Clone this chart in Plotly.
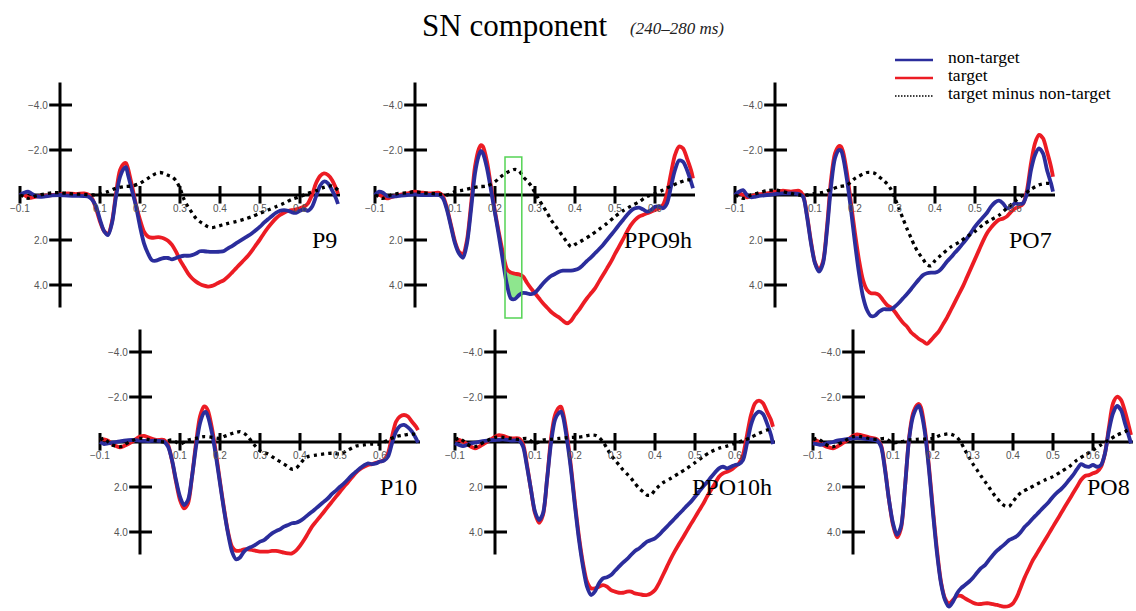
import numpy as np
import plotly.graph_objects as go

# ---------------- data ----------------
PANELS = ["P9", "PPO9h", "PO7", "P10", "PPO10h", "PO8"]

# time grid (s) for the solid waveforms
T = [-0.10, -0.09, -0.08, -0.07, -0.06, -0.05, -0.04, -0.02, 0.00, 0.01, 0.02, 0.04, 0.06, 0.07,
     0.08, 0.09, 0.10, 0.11, 0.12, 0.13, 0.14, 0.15, 0.16, 0.165,
     0.17, 0.18, 0.19, 0.20, 0.21, 0.22, 0.23, 0.24, 0.25, 0.26,
     0.27, 0.28, 0.29, 0.30, 0.31, 0.32, 0.33, 0.34, 0.35, 0.36,
     0.37, 0.38, 0.39, 0.40, 0.41, 0.42, 0.43, 0.44, 0.45, 0.46,
     0.47, 0.48, 0.49, 0.50, 0.51, 0.52, 0.53, 0.54, 0.55, 0.56,
     0.57, 0.58, 0.59, 0.60, 0.61, 0.62, 0.63, 0.64, 0.65, 0.66,
     0.67, 0.68, 0.69, 0.695]

# time grid (s) for the difference waves
TD = [-0.10, -0.09, -0.08, -0.07, -0.06, -0.05, -0.04, -0.02, 0.00, 0.02, 0.04, 0.06, 0.08, 0.10,
      0.12, 0.14, 0.16, 0.18, 0.20,
      0.21, 0.22, 0.23, 0.24, 0.25, 0.26, 0.27, 0.28, 0.29, 0.30,
      0.31, 0.32, 0.33, 0.34, 0.35, 0.36, 0.37, 0.38, 0.39, 0.40, 0.41, 0.42,
      0.44, 0.46, 0.48, 0.50, 0.52, 0.54, 0.56, 0.58, 0.60, 0.62, 0.64, 0.66, 0.68,
      0.695]

# non-target (µV)
NONTARGET_P9 = [0.00, -0.10, -0.15, -0.05, 0.05, 0.08, 0.07, 0.02, 0.00, 0.02, 0.03, 0.04, 0.05, 0.07,
                0.20, 0.50, 1.10, 1.60, 1.78, 1.25, 0.07, -0.80, -1.18, -1.23,
                -0.90, -0.20, 0.50, 1.40, 2.15, 2.60, 2.90, 2.92, 2.85, 2.80,
                2.80, 2.86, 2.80, 2.74, 2.70, 2.70, 2.67, 2.60, 2.50, 2.50,
                2.52, 2.53, 2.53, 2.52, 2.49, 2.37, 2.27, 2.15, 2.04, 1.93,
                1.82, 1.70, 1.56, 1.41, 1.23, 1.08, 0.93, 0.79, 0.70, 0.67,
                0.70, 0.77, 0.79, 0.70, 0.64, 0.70, 0.52, 0.07, -0.40, -0.60,
                -0.52, -0.22, 0.15, 0.40]
NONTARGET_PPO9h = [0.00, -0.15, -0.10, 0.04, 0.07, 0.06, 0.04, 0.00, -0.03, -0.01, 0.00, 0.00, 0.00, 0.15,
                   0.67, 1.41, 2.15, 2.60, 2.79, 2.15, 0.67, -0.96, -1.78, -1.96,
                   -1.85, -1.19, -0.22, 0.81, 1.85, 2.96, 4.00, 4.60, 4.62, 4.45,
                   4.35, 4.37, 4.41, 4.34, 4.15, 3.93, 3.75, 3.60, 3.51, 3.41,
                   3.36, 3.36, 3.36, 3.33, 3.26, 3.11, 2.93, 2.77, 2.59, 2.41,
                   2.22, 2.00, 1.78, 1.56, 1.33, 1.11, 0.89, 0.70, 0.59, 0.56,
                   0.64, 0.74, 0.67, 0.52, 0.52, 0.59, 0.37, -0.37, -1.11, -1.53,
                   -1.48, -1.11, -0.59, -0.30]
NONTARGET_PO7 = [0.00, -0.15, -0.22, 0.00, 0.10, 0.08, 0.04, 0.00, -0.04, -0.06, -0.07, -0.07, -0.04, 0.07,
                 0.96, 2.15, 3.04, 3.41, 3.04, 1.56, -0.37, -1.63, -2.00, -1.98,
                 -1.70, -0.67, 0.67, 2.15, 3.48, 4.52, 5.11, 5.38, 5.36, 5.19,
                 5.08, 5.08, 5.08, 4.96, 4.79, 4.59, 4.40, 4.19, 3.96, 3.75,
                 3.56, 3.48, 3.45, 3.45, 3.38, 3.19, 2.96, 2.77, 2.56, 2.37,
                 2.15, 1.93, 1.67, 1.41, 1.19, 0.99, 0.79, 0.52, 0.33, 0.25,
                 0.37, 0.59, 0.52, 0.37, 0.41, 0.37, -0.07, -1.11, -1.78, -2.07,
                 -1.85, -1.11, -0.52, -0.15]
NONTARGET_P10 = [0.00, 0.09, 0.06, 0.03, 0.00, -0.03, -0.06, -0.09, -0.06, -0.05, -0.04, -0.06, -0.01, 0.20,
                 0.80, 1.69, 2.43, 2.80, 2.58, 1.54, 0.21, -0.83, -1.30, -1.33,
                 -1.13, -0.39, 0.65, 1.84, 3.02, 4.06, 4.87, 5.21, 5.13, 4.87,
                 4.73, 4.65, 4.55, 4.43, 4.36, 4.21, 4.06, 3.96, 3.88, 3.76,
                 3.69, 3.61, 3.59, 3.51, 3.39, 3.24, 3.10, 2.95, 2.80, 2.65,
                 2.50, 2.31, 2.16, 1.99, 1.84, 1.66, 1.47, 1.32, 1.17, 1.04,
                 0.95, 0.98, 0.95, 0.87, 0.83, 0.65, 0.06, -0.46, -0.71, -0.76,
                 -0.65, -0.46, -0.16, 0.03]
NONTARGET_PPO10h = [0.06, 0.13, 0.18, 0.13, 0.06, 0.03, -0.01, -0.06, -0.09, -0.10, -0.12, -0.06, -0.06, 0.20,
                    1.10, 2.13, 3.10, 3.47, 3.17, 1.69, 0.06, -0.98, -1.30, -1.35,
                    -1.13, -0.09, 1.24, 2.87, 4.36, 5.54, 6.43, 6.80, 6.64, 6.28,
                    6.06, 6.01, 5.91, 5.72, 5.54, 5.36, 5.21, 5.02, 4.84, 4.73,
                    4.58, 4.43, 4.36, 4.28, 4.13, 3.94, 3.76, 3.57, 3.39, 3.20,
                    3.02, 2.83, 2.65, 2.43, 2.21, 1.99, 1.79, 1.57, 1.36, 1.17,
                    1.10, 1.17, 1.10, 1.02, 0.98, 0.80, 0.06, -0.76, -1.20, -1.35,
                    -1.24, -0.83, -0.31, 0.09]
NONTARGET_PO8 = [0.06, 0.09, 0.13, 0.09, 0.03, 0.00, -0.06, -0.12, -0.16, -0.17, -0.16, -0.12, -0.06, 0.20,
                 1.24, 2.58, 3.61, 4.13, 3.76, 1.99, -0.09, -1.13, -1.54, -1.60,
                 -1.35, -0.39, 1.24, 3.17, 4.95, 6.28, 7.02, 7.32, 7.10, 6.73,
                 6.50, 6.36, 6.21, 6.03, 5.81, 5.61, 5.47, 5.24, 5.02, 4.83,
                 4.68, 4.53, 4.36, 4.28, 4.18, 3.99, 3.76, 3.59, 3.39, 3.21,
                 3.02, 2.84, 2.65, 2.43, 2.25, 2.10, 1.91, 1.69, 1.47, 1.21,
                 0.98, 1.07, 1.10, 1.02, 1.10, 1.02, 0.50, -0.53, -1.27, -1.60,
                 -1.42, -0.83, -0.24, 0.06]

# target (µV)
TARGET_P9 = [0.00, 0.00, 0.10, 0.12, 0.07, 0.05, 0.04, 0.00, -0.03, -0.05, -0.07, -0.04, -0.07, -0.03,
             0.15, 0.60, 1.18, 1.60, 1.73, 1.18, -0.07, -1.10, -1.40, -1.42,
             -1.18, -0.40, 0.44, 1.10, 1.63, 1.85, 1.90, 1.88, 1.88, 1.93,
             2.03, 2.22, 2.52, 2.89, 3.19, 3.48, 3.70, 3.85, 3.96, 4.03,
             4.07, 4.04, 3.96, 3.87, 3.78, 3.63, 3.45, 3.26, 3.07, 2.89,
             2.70, 2.47, 2.22, 1.97, 1.70, 1.45, 1.23, 1.04, 0.89, 0.79,
             0.71, 0.67, 0.64, 0.59, 0.52, 0.37, 0.00, -0.52, -0.84, -0.96,
             -0.89, -0.67, -0.30, -0.05]
TARGET_PPO9h = [0.00, 0.00, 0.07, 0.15, 0.10, 0.05, 0.00, -0.07, -0.15, -0.12, -0.10, -0.07, -0.10, 0.07,
                0.59, 1.33, 2.07, 2.52, 2.62, 2.00, 0.44, -1.26, -2.07, -2.22,
                -2.15, -1.48, -0.37, 0.74, 1.70, 2.59, 3.30, 3.45, 3.50, 3.53,
                3.62, 3.90, 4.15, 4.37, 4.59, 4.81, 5.00, 5.19, 5.33, 5.44,
                5.59, 5.70, 5.59, 5.33, 5.11, 4.84, 4.59, 4.37, 4.15, 3.85,
                3.56, 3.26, 2.96, 2.62, 2.30, 1.97, 1.63, 1.33, 1.11, 0.96,
                0.89, 0.81, 0.74, 0.67, 0.59, 0.44, -0.07, -0.96, -1.78, -2.15,
                -2.07, -1.63, -1.11, -0.74]
TARGET_PO7 = [0.00, -0.07, 0.00, 0.10, 0.04, 0.00, -0.04, -0.07, -0.15, -0.17, -0.19, -0.15, -0.19, 0.00,
              0.89, 2.07, 3.00, 3.33, 2.96, 1.41, -0.67, -1.85, -2.18, -2.15,
              -1.93, -0.96, 0.37, 1.70, 2.89, 3.78, 4.22, 4.37, 4.37, 4.44,
              4.67, 4.89, 5.00, 5.20, 5.45, 5.68, 5.85, 6.10, 6.25, 6.40,
              6.50, 6.62, 6.45, 6.25, 6.05, 5.75, 5.45, 5.10, 4.75, 4.40,
              4.05, 3.65, 3.25, 2.85, 2.45, 2.05, 1.70, 1.45, 1.25, 1.10,
              1.05, 0.95, 0.75, 0.60, 0.52, 0.40, -0.22, -1.41, -2.30, -2.67,
              -2.52, -1.93, -1.26, -0.81]
TARGET_P10 = [-0.09, -0.12, -0.06, 0.09, 0.18, 0.24, 0.18, -0.01, -0.24, -0.27, -0.21, -0.09, -0.09, 0.13,
              0.83, 1.76, 2.58, 2.95, 2.73, 1.54, 0.06, -1.13, -1.58, -1.55,
              -1.39, -0.61, 0.50, 1.76, 2.95, 3.99, 4.65, 4.83, 4.83, 4.77,
              4.77, 4.80, 4.84, 4.87, 4.87, 4.87, 4.84, 4.84, 4.87, 4.92,
              4.95, 4.95, 4.83, 4.62, 4.36, 4.06, 3.76, 3.54, 3.32, 3.10,
              2.87, 2.65, 2.43, 2.21, 1.99, 1.79, 1.57, 1.36, 1.21, 1.10,
              1.02, 0.98, 0.92, 0.87, 0.80, 0.50, -0.24, -0.90, -1.13, -1.20,
              -1.13, -0.90, -0.68, -0.53]
TARGET_PPO10h = [-0.09, -0.09, -0.01, 0.09, 0.21, 0.28, 0.21, -0.01, -0.24, -0.31, -0.27, -0.16, -0.16, 0.09,
                 1.02, 2.13, 3.17, 3.59, 3.24, 1.69, -0.16, -1.20, -1.54, -1.57,
                 -1.30, -0.31, 1.10, 2.73, 4.21, 5.39, 6.21, 6.50, 6.50, 6.43,
                 6.36, 6.43, 6.58, 6.65, 6.70, 6.70, 6.65, 6.65, 6.73, 6.76,
                 6.80, 6.80, 6.73, 6.58, 6.28, 5.91, 5.54, 5.17, 4.84, 4.53,
                 4.24, 3.94, 3.64, 3.35, 3.05, 2.76, 2.43, 2.13, 1.84, 1.54,
                 1.39, 1.32, 1.24, 1.10, 0.95, 0.58, -0.31, -1.20, -1.72, -1.84,
                 -1.72, -1.35, -0.98, -0.68]
TARGET_PO8 = [-0.09, -0.06, 0.06, 0.18, 0.24, 0.28, 0.21, -0.01, -0.27, -0.34, -0.31, -0.21, -0.12, 0.13,
              1.17, 2.58, 3.69, 4.24, 3.84, 1.99, -0.16, -1.27, -1.64, -1.69,
              -1.54, -0.53, 1.10, 3.02, 4.80, 6.21, 6.95, 7.17, 7.02, 6.84,
              6.84, 6.95, 7.05, 7.14, 7.20, 7.20, 7.17, 7.17, 7.21, 7.24,
              7.29, 7.32, 7.29, 7.17, 6.87, 6.43, 5.99, 5.61, 5.24, 4.95,
              4.65, 4.36, 4.06, 3.76, 3.47, 3.17, 2.87, 2.58, 2.28, 1.99,
              1.69, 1.51, 1.47, 1.39, 1.32, 1.10, 0.50, -0.68, -1.72, -2.01,
              -1.87, -1.35, -0.68, -0.31]

# target minus non-target (µV)
DIFF_P9 = [0.00, 0.07, 0.15, 0.10, 0.04, 0.00, -0.04, -0.10, -0.10, -0.07, -0.04, -0.03, 0.00, -0.04,
           -0.15, -0.30, -0.37, -0.40, -0.52,
           -0.63, -0.74, -0.86, -0.96, -1.00, -0.96, -0.88, -0.81, -0.64, -0.30,
           0.19, 0.52, 0.79, 1.04, 1.19, 1.30, 1.41, 1.45, 1.41, 1.36, 1.31, 1.26,
           1.18, 1.08, 0.96, 0.81, 0.67, 0.52, 0.37, 0.19, 0.07, -0.07, -0.19, -0.34, -0.40,
           -0.22]
DIFF_PPO9h = [0.00, 0.07, 0.15, 0.07, 0.00, -0.04, -0.07, -0.10, -0.15, -0.10, -0.07, -0.04, 0.00, -0.15,
              -0.22, -0.30, -0.37, -0.40, -0.59,
              -0.74, -0.89, -1.00, -1.08, -1.14, -1.08, -0.82, -0.63, -0.42, -0.10,
              0.20, 0.50, 0.78, 1.10, 1.35, 1.60, 1.85, 2.10, 2.30, 2.20, 2.10, 2.00,
              1.78, 1.53, 1.26, 0.96, 0.70, 0.49, 0.30, 0.07, -0.07, -0.22, -0.40, -0.55, -0.67,
              -0.67]
DIFF_PO7 = [0.00, 0.07, 0.15, 0.10, 0.00, -0.05, -0.10, -0.19, -0.22, -0.15, -0.07, 0.00, 0.00, -0.07,
            -0.12, -0.25, -0.37, -0.44, -0.74,
            -0.84, -0.93, -1.00, -1.00, -0.96, -0.81, -0.67, -0.50, -0.25, 0.15,
            0.60, 1.05, 1.50, 1.90, 2.30, 2.60, 2.85, 3.10, 3.15, 2.92, 2.75, 2.60,
            2.30, 2.10, 1.85, 1.62, 1.32, 1.10, 0.90, 0.58, 0.28, 0.00, -0.25, -0.45, -0.52,
            -0.49]
DIFF_P10 = [-0.09, -0.16, -0.01, 0.13, 0.18, 0.21, 0.13, -0.06, -0.16, -0.12, -0.06, -0.01, -0.09, 0.09,
            -0.09, -0.16, -0.24, -0.21, -0.16,
            -0.24, -0.31, -0.38, -0.43, -0.46, -0.39, -0.24, 0.00, 0.21, 0.39,
            0.47, 0.53, 0.65, 0.77, 0.87, 0.98, 1.10, 1.21, 1.17, 0.98, 0.77, 0.65,
            0.58, 0.53, 0.50, 0.53, 0.36, 0.18, 0.13, 0.09, 0.09, -0.09, -0.24, -0.31, -0.36,
            -0.31]
DIFF_PPO10h = [-0.09, -0.16, -0.06, 0.09, 0.18, 0.21, 0.13, -0.06, -0.21, -0.21, -0.16, -0.12, -0.16, 0.06,
               -0.09, -0.12, -0.16, -0.19, -0.21,
               -0.22, -0.24, -0.28, -0.31, -0.30, -0.21, 0.00, 0.28, 0.58, 0.80,
               1.02, 1.24, 1.42, 1.61, 1.84, 2.06, 2.21, 2.36, 2.36, 2.13, 1.96, 1.81,
               1.61, 1.39, 1.17, 0.92, 0.65, 0.43, 0.28, 0.18, 0.06, -0.06, -0.21, -0.39, -0.53,
               -0.61]
DIFF_PO8 = [-0.09, -0.16, -0.06, 0.09, 0.18, 0.21, 0.13, -0.06, -0.24, -0.24, -0.16, -0.12, -0.16, 0.03,
            -0.01, -0.09, -0.12, -0.13, -0.16,
            -0.24, -0.31, -0.34, -0.36, -0.31, -0.21, 0.03, 0.36, 0.68, 0.98,
            1.24, 1.51, 1.76, 2.01, 2.28, 2.50, 2.70, 2.84, 2.87, 2.65, 2.43, 2.25,
            2.06, 1.87, 1.69, 1.54, 1.32, 1.10, 0.80, 0.58, 0.36, 0.13, -0.09, -0.31, -0.46,
            -0.61]

NONTARGET = dict(zip(PANELS, [NONTARGET_P9, NONTARGET_PPO9h, NONTARGET_PO7,
                              NONTARGET_P10, NONTARGET_PPO10h, NONTARGET_PO8]))
TARGET = dict(zip(PANELS, [TARGET_P9, TARGET_PPO9h, TARGET_PO7,
                           TARGET_P10, TARGET_PPO10h, TARGET_PO8]))
DIFF = dict(zip(PANELS, [DIFF_P9, DIFF_PPO9h, DIFF_PO7, DIFF_P10, DIFF_PPO10h, DIFF_PO8]))

for p in PANELS:
    assert len(NONTARGET[p]) == len(T), (p, "nt", len(NONTARGET[p]))
    assert len(TARGET[p]) == len(T), (p, "t", len(TARGET[p]))
    assert len(DIFF[p]) == len(TD), (p, "d", len(DIFF[p]))

XTICKS = [-0.1, 0.1, 0.2, 0.3, 0.4, 0.5, 0.6]
XTICK_LABELS = ["\u22120.1", "0.1", "0.2", "0.3", "0.4", "0.5", "0.6"]
YTICKS = [-4.0, -2.0, 2.0, 4.0]
YTICK_LABELS = ["\u22124.0", "\u22122.0", "2.0", "4.0"]

HIGHLIGHT_PANEL = "PPO9h"
BOX_T = (0.225, 0.267)
BOX_V = (-1.69, 5.47)

LEGEND_LABELS = ["non-target", "target", "target minus non-target"]

# ---------------- layout geometry ----------------
W, H = 1136, 611
SX = 400.0   # px per second
SY = 22.5    # px per microvolt
ORIGINS = [(60, 195), (415, 195), (775, 195), (140, 442), (495, 442), (853, 442)]
ROW_PY = [(55, 362), (300, 611)]

BLUE = "#2b2d9c"
RED = "#ec1c24"
BLACK = "#000000"
SERIF = "Liberation Serif, Times New Roman, serif"
SANS = "Liberation Sans, Arial, sans-serif"

fig = go.Figure()
shapes = []
annotations = []
layout_axes = {}

for i, name in enumerate(PANELS):
    n = i + 1
    ox, oy = ORIGINS[i]
    py0, py1 = ROW_PY[0 if i < 3 else 1]
    px0 = ox - 50
    px1 = min(ox + 292, W)
    xa = "x" if n == 1 else f"x{n}"
    ya = "y" if n == 1 else f"y{n}"
    layout_axes["xaxis" if n == 1 else f"xaxis{n}"] = dict(
        domain=[px0 / W, px1 / W], range=[(px0 - ox) / SX, (px1 - ox) / SX],
        visible=False, anchor=ya, fixedrange=True)
    layout_axes["yaxis" if n == 1 else f"yaxis{n}"] = dict(
        domain=[1 - py1 / H, 1 - py0 / H], range=[(py1 - oy) / SY, (py0 - oy) / SY],
        visible=False, anchor=xa, fixedrange=True)

    # axes lines
    shapes.append(dict(type="line", xref=xa, yref=ya, x0=-0.1, x1=0.7, y0=0, y1=0,
                       line=dict(color=BLACK, width=3), layer="below"))
    shapes.append(dict(type="line", xref=xa, yref=ya, x0=0, x1=0, y0=-5.0, y1=5.0,
                       line=dict(color=BLACK, width=3), layer="below"))
    for tx, lab in zip(XTICKS, XTICK_LABELS):
        shapes.append(dict(type="line", xref=xa, yref=ya, x0=tx, x1=tx, y0=-0.4, y1=0.38,
                           line=dict(color=BLACK, width=3), layer="below"))
        annotations.append(dict(xref=xa, yref=ya, x=tx, y=0.62, text=lab, showarrow=False,
                                xanchor="center", yanchor="middle",
                                font=dict(family=SANS, size=10, color="#555555")))
    for ty, lab in zip(YTICKS, YTICK_LABELS):
        shapes.append(dict(type="line", xref=xa, yref=ya, x0=-0.027, x1=0.03, y0=ty, y1=ty,
                           line=dict(color=BLACK, width=3), layer="below"))
        annotations.append(dict(xref=xa, yref=ya, x=-0.027, y=ty, text=lab, showarrow=False,
                                xanchor="right", yanchor="middle", xshift=1,
                                font=dict(family=SANS, size=10, color="#555555")))

    # highlighted window (filled between the two waveforms)
    if name == HIGHLIGHT_PANEL:
        ta = np.array(T)
        inside = ta[(ta > BOX_T[0]) & (ta < BOX_T[1])]
        xs = np.concatenate([[BOX_T[0]], inside, [BOX_T[1]]])
        red_v = np.interp(xs, T, TARGET[name])
        blue_v = np.interp(xs, T, NONTARGET[name])
        fig.add_trace(go.Scatter(x=np.concatenate([xs, xs[::-1]]),
                                 y=np.concatenate([red_v, blue_v[::-1]]),
                                 fill="toself", fillcolor="#8ee68e", mode="lines",
                                 line=dict(width=0, color="#8ee68e"), hoverinfo="skip",
                                 showlegend=False, xaxis=xa, yaxis=ya))
        shapes.append(dict(type="rect", xref=xa, yref=ya, x0=BOX_T[0], x1=BOX_T[1],
                           y0=BOX_V[0], y1=BOX_V[1], line=dict(color="#55d455", width=1.5),
                           layer="above"))

    fig.add_trace(go.Scatter(x=T, y=TARGET[name], mode="lines", name=LEGEND_LABELS[1],
                             line=dict(color=RED, width=3.8, shape="spline", smoothing=0.8),
                             showlegend=False, xaxis=xa, yaxis=ya))
    fig.add_trace(go.Scatter(x=T, y=NONTARGET[name], mode="lines", name=LEGEND_LABELS[0],
                             line=dict(color=BLUE, width=3.8, shape="spline", smoothing=0.8),
                             showlegend=False, xaxis=xa, yaxis=ya))
    fig.add_trace(go.Scatter(x=TD, y=DIFF[name], mode="lines", name=LEGEND_LABELS[2],
                             line=dict(color=BLACK, width=3.3, dash="3.3px,4px",
                                       shape="spline", smoothing=0.8),
                             showlegend=False, xaxis=xa, yaxis=ya))

    annotations.append(dict(xref=xa, yref=ya, x=0.697, y=2.0, text=name, showarrow=False,
                            xanchor="right", yanchor="middle",
                            font=dict(family=SERIF, size=24, color=BLACK)))

# legend (drawn manually to match the compact layout)
LEGEND_STYLE = [(BLUE, "solid", 2.5), (RED, "solid", 2.5), (BLACK, "1.5px,1.5px", 1.6)]
LEGEND_PY = [57, 75, 93]
for lab, (col, dash, wd), py in zip(LEGEND_LABELS, LEGEND_STYLE, LEGEND_PY):
    shapes.append(dict(type="line", xref="paper", yref="paper", x0=895 / W, x1=933 / W,
                       y0=1 - (py + 3) / H, y1=1 - (py + 3) / H,
                       line=dict(color=col, width=wd, dash=dash)))
    annotations.append(dict(xref="paper", yref="paper", x=946 / W, y=1 - py / H, text=lab,
                            showarrow=False, xanchor="left", yanchor="middle",
                            font=dict(family=SERIF, size=17.5, color=BLACK)))

# title
annotations.append(dict(xref="paper", yref="paper", x=515 / W, y=1 - 26 / H,
                        text="SN component", showarrow=False, xanchor="center", yanchor="middle",
                        font=dict(family=SERIF, size=31, color=BLACK)))
annotations.append(dict(xref="paper", yref="paper", x=628 / W, y=1 - 28 / H,
                        text="<i>(240\u2013280 ms)</i>", showarrow=False, xanchor="left",
                        yanchor="middle", font=dict(family=SERIF, size=17, color="#222222")))

fig.update_layout(width=W, height=H, autosize=False,
                  margin=dict(l=0, r=0, t=0, b=0, pad=0),
                  paper_bgcolor="white", plot_bgcolor="rgba(0,0,0,0)",
                  showlegend=False, shapes=shapes, annotations=annotations,
                  **layout_axes)

fig.write_html("out.html", config={"displayModeBar": False, "staticPlot": True},
               post_script="document.body.style.margin='0px';"
                           "document.body.style.overflow='hidden';")
